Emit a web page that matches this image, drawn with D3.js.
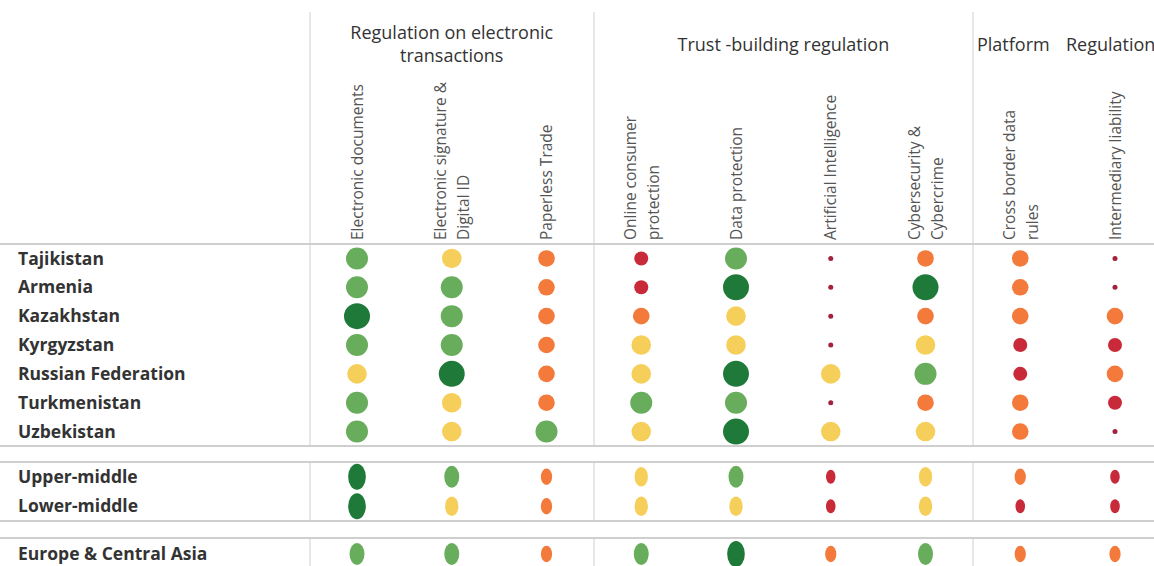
<!DOCTYPE html>
<meta charset="utf-8">
<style>
    body { margin: 0; background: #fff; }
    svg { font-family: "Open Sans", "Noto Sans", sans-serif; }
    .row-label { font-size: 17.5px; font-weight: bold; fill: #333; }
    .col-label { font-size: 15.5px; fill: #555; }
    .group-title { font-size: 18px; fill: #333; }
    .grid { stroke: #cfcfcf; }
</style>
<svg width="1154" height="566"></svg>
<script src="https://d3js.org/d3.v7.min.js"></script>
<script>
    var columns = ["Electronic documents", "Electronic signature & Digital ID", "Paperless Trade",
        "Online consumer protection", "Data protection", "Artificial Intelligence",
        "Cybersecurity & Cybercrime", "Cross border data rules", "Intermediary liability"];
    // label lines as shown in the header
    var columnLines = [["Electronic documents"], ["Electronic signature &", "Digital ID"], ["Paperless Trade"],
        ["Online consumer", "protection"], ["Data protection"], ["Artificial Intelligence"],
        ["Cybersecurity &", "Cybercrime"], ["Cross border data", "rules"], ["Intermediary liability"]];

    var sections = [
        {title: ["Regulation on electronic", "transactions"], from: 0, to: 2},
        {title: ["Trust -building regulation"], from: 3, to: 6},
        {title: ["Platform", "Regulation"], from: 7, to: 8}
    ];

    var rowGroups = [
        ["Tajikistan", "Armenia", "Kazakhstan", "Kyrgyzstan", "Russian Federation", "Turkmenistan", "Uzbekistan"],
        ["Upper-middle", "Lower-middle"],
        ["Europe & Central Asia"]
    ];

    // level 0 = none ... 5 = highest
    var levels = {
        "Tajikistan":            [4, 3, 2, 1, 4, 0, 2, 2, 0],
        "Armenia":               [4, 4, 2, 1, 5, 0, 5, 2, 0],
        "Kazakhstan":            [5, 4, 2, 2, 3, 0, 2, 2, 2],
        "Kyrgyzstan":            [4, 4, 2, 3, 3, 0, 3, 1, 1],
        "Russian Federation":    [3, 5, 2, 3, 5, 3, 4, 1, 2],
        "Turkmenistan":          [4, 3, 2, 4, 4, 0, 2, 2, 1],
        "Uzbekistan":            [4, 3, 4, 3, 5, 3, 3, 2, 0],
        "Upper-middle":          [5, 4, 2, 3, 4, 1, 3, 2, 1],
        "Lower-middle":          [5, 3, 2, 3, 3, 1, 3, 1, 1],
        "Europe & Central Asia": [4, 4, 2, 4, 5, 2, 4, 2, 2]
    };

    var svg = d3.select("svg"),
        width = +svg.attr("width"),
        height = +svg.attr("height");

    var x = d3.scalePoint()
        .domain(columns)
        .range([357, 1115]);

    var color = d3.scaleOrdinal()
        .domain([0, 1, 2, 3, 4, 5])
        .range(["#a3213b", "#c92a3a", "#f47a3c", "#f6cf5a", "#67ad5b", "#1f7a3a"]);

    var radius = d3.scaleOrdinal()
        .domain([0, 1, 2, 3, 4, 5])
        .range([2.5, 7, 8.3, 9.8, 11, 13]);

    // vertical extent of each row block
    var blocks = [[244, 446], [462, 521], [538, 570]];
    var xSquash = [1, 0.68, 0.68];

    var dividers = [310, 594, 973];

    // header dividers
    svg.append("g").selectAll("line")
        .data(dividers)
        .enter().append("line")
        .attr("class", "grid")
        .attr("x1", function (d) { return d; })
        .attr("x2", function (d) { return d; })
        .attr("y1", 12)
        .attr("y2", 244);

    // section titles
    sections.forEach(function (s, i) {
        if (i === 2) {
            // the last title sits on one line, split across its two columns
            svg.append("text").attr("class", "group-title")
                .attr("x", 977).attr("y", 51).text(s.title[0]);
            svg.append("text").attr("class", "group-title")
                .attr("x", 1066).attr("y", 51).text(s.title[1]);
            return;
        }
        var cx = (x(columns[s.from]) + x(columns[s.to])) / 2;
        var t = svg.append("text")
            .attr("class", "group-title")
            .attr("text-anchor", "middle")
            .attr("y", s.title.length > 1 ? 39 : 51);
        s.title.forEach(function (line, j) {
            t.append("tspan")
                .attr("x", cx)
                .attr("dy", j ? 23 : 0)
                .text(line);
        });
    });

    // column labels (rotated)
    var colLabel = svg.append("g").selectAll("text")
        .data(columns)
        .enter().append("text")
        .attr("class", "col-label")
        .attr("transform", function (d) {
            return "translate(" + x(d) + ",240) rotate(-90)";
        });

    colLabel.each(function (d, i) {
        var lines = columnLines[i],
            off = lines.length > 1 ? -5.5 : 5.5;
        d3.select(this).selectAll("tspan")
            .data(lines)
            .enter().append("tspan")
            .attr("x", 0)
            .attr("y", function (l, j) { return off + j * 23; })
            .text(function (l) { return l; });
    });

    // row blocks
    rowGroups.forEach(function (rows, gi) {
        var y = d3.scaleBand()
            .domain(rows)
            .range(blocks[gi]);
        var g = svg.append("g");

        g.append("line").attr("class", "grid")
            .attr("x1", 0).attr("x2", width)
            .attr("y1", blocks[gi][0]).attr("y2", blocks[gi][0])
            .style("stroke-width", 2);
        if (gi < 2) {
            g.append("line").attr("class", "grid")
                .attr("x1", 0).attr("x2", width)
                .attr("y1", blocks[gi][1]).attr("y2", blocks[gi][1])
                .style("stroke-width", 2);
        }

        g.selectAll(".vdiv")
            .data(dividers)
            .enter().append("line")
            .attr("class", "grid vdiv")
            .attr("x1", function (d) { return d; })
            .attr("x2", function (d) { return d; })
            .attr("y1", blocks[gi][0])
            .attr("y2", blocks[gi][1]);

        g.selectAll(".row-label")
            .data(rows)
            .enter().append("text")
            .attr("class", "row-label")
            .attr("x", 18)
            .attr("y", function (d) { return y(d) + y.bandwidth() / 2; })
            .attr("dy", "0.35em")
            .text(function (d) { return d; });

        rows.forEach(function (r) {
            g.append("g").selectAll("ellipse")
                .data(levels[r])
                .enter().append("ellipse")
                .attr("cx", function (d, i) { return x(columns[i]); })
                .attr("cy", y(r) + y.bandwidth() / 2)
                .attr("rx", function (d) { return radius(d) * xSquash[gi]; })
                .attr("ry", function (d) { return radius(d); })
                .style("fill", function (d) { return color(d); });
        });
    });
</script>
